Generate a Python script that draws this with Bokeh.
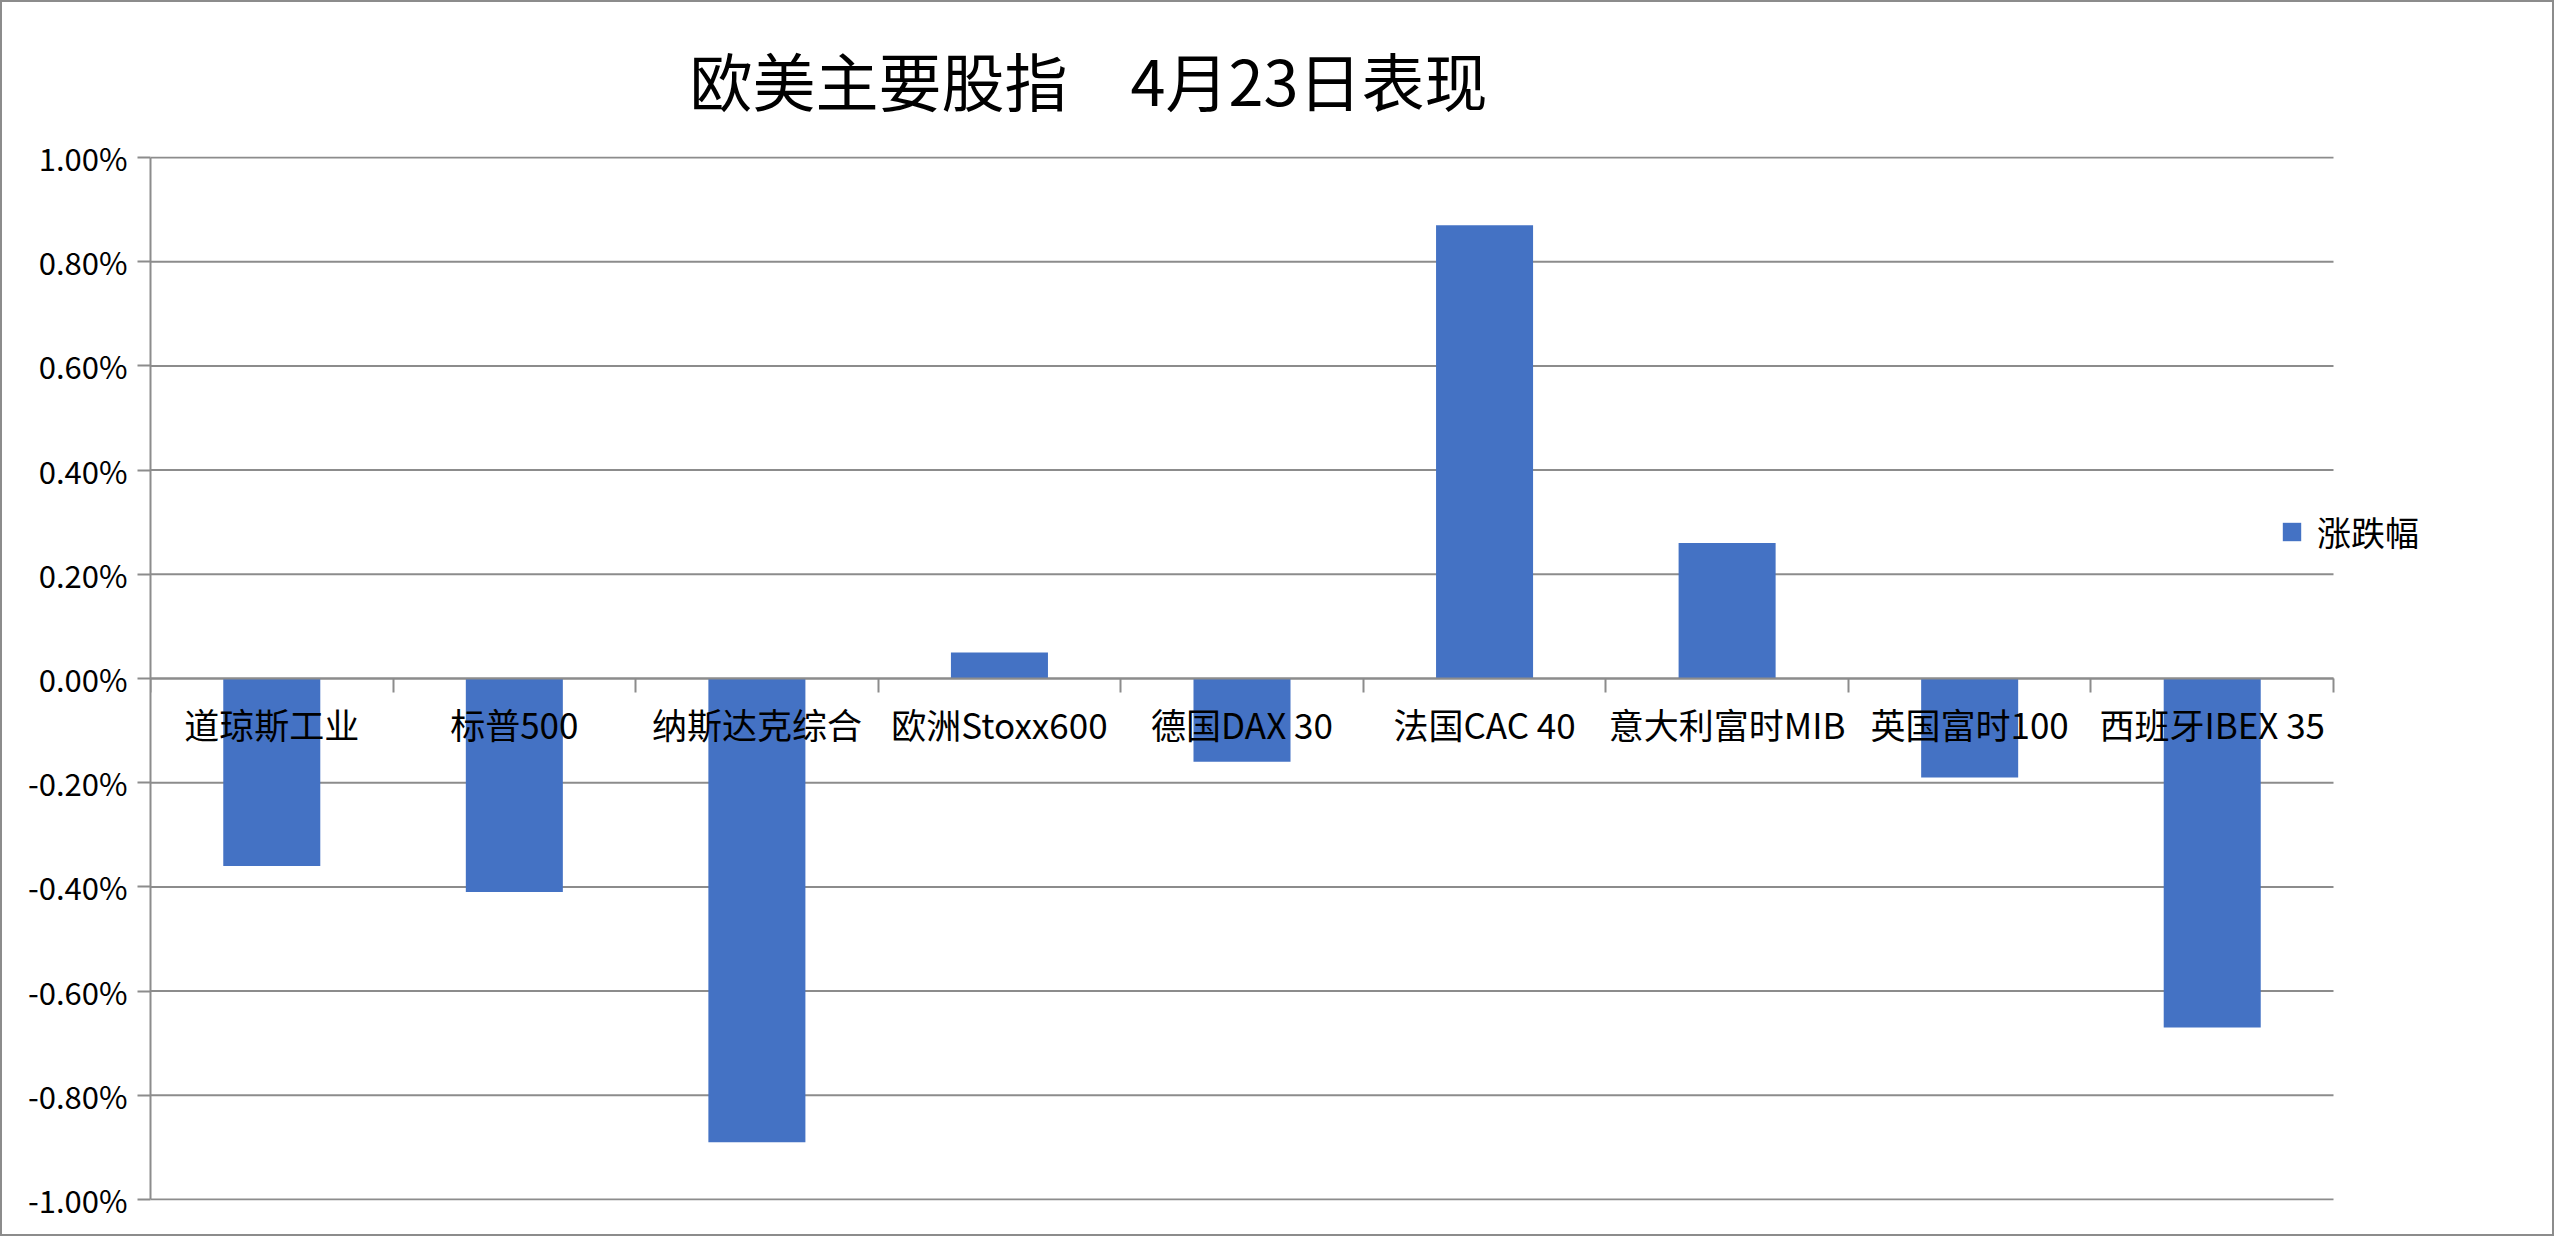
from bokeh.plotting import figure
from bokeh.models import (Range1d, LinearAxis, FixedTicker, PrintfTickFormatter,
                          Legend, LegendItem, ColumnDataSource)
from bokeh.embed import file_html
from bokeh.resources import INLINE

# ---- data ----
categories = ["道琼斯工业", "标普500", "纳斯达克综合", "欧洲Stoxx600", "德国DAX 30",
              "法国CAC 40", "意大利富时MIB", "英国富时100", "西班牙IBEX 35"]
changes = [-0.36, -0.41, -0.89, 0.05, -0.16, 0.87, 0.26, -0.19, -0.67]
y_ticks = [-1.0, -0.8, -0.6, -0.4, -0.2, 0.0, 0.2, 0.4, 0.6, 0.8, 1.0]
series_name = "涨跌幅"
title_text = "欧美主要股指　4月23日表现"

# ---- style / layout ----
FONT = "Noto Sans CJK SC"
GREY = "#8c8c8c"
BLUE = "#4472C4"
W, H = 2554, 1236
FRAME_L, FRAME_T, FRAME_B = 148, 153, 1198
CAT_R = 2331          # right end of the category area / gridlines
FRAME_R = 2480        # frame extends past the gridlines to host the legend

n = len(categories)
centers = [i + 0.5 for i in range(n)]
bounds = [float(i) for i in range(n + 1)]
x_end = n * (FRAME_R - FRAME_L) / (CAT_R - FRAME_L)
y_lo, y_hi = min(y_ticks), max(y_ticks)
pad = (y_hi - y_lo) * 0.001

src = ColumnDataSource(dict(x=centers, top=changes, cat=categories))
grid_src = ColumnDataSource(dict(y=y_ticks, x0=[0] * len(y_ticks), x1=[n] * len(y_ticks)))

p = figure(width=W, height=H,
           x_range=Range1d(0, x_end), y_range=Range1d(y_lo - pad, y_hi + pad),
           output_backend="svg", toolbar_location=None,
           title=title_text, x_axis_type=None,
           min_border_left=FRAME_L, min_border_right=W - FRAME_R,
           min_border_top=FRAME_T, min_border_bottom=H - FRAME_B)
p.styles = {"border": "2px solid #8c8c8c"}
p.outline_line_color = None
p.background_fill_color = "white"
p.border_fill_color = "white"

p.title.text_font = FONT
p.title.text_font_size = "63px"
p.title.text_font_style = "normal"
p.title.text_color = "black"
p.title.align = "left"
p.title.vertical_align = "top"
p.title.offset = 539
p.title.standoff = 61

# y axis
p.yaxis.ticker = FixedTicker(ticks=y_ticks)
p.yaxis.formatter = PrintfTickFormatter(format="%.2f%%")
p.yaxis.axis_line_color = GREY
p.yaxis.axis_line_width = 2
p.yaxis.major_tick_line_color = GREY
p.yaxis.major_tick_line_width = 2
p.yaxis.major_tick_out = 13
p.yaxis.major_tick_in = 0
p.yaxis.minor_tick_line_color = None
p.yaxis.major_label_text_font = FONT
p.yaxis.major_label_text_font_size = "31px"
p.yaxis.major_label_text_color = "black"
p.yaxis.major_label_standoff = 10
p.yaxis.bounds = (y_lo, y_hi)

p.ygrid.visible = False
p.xgrid.visible = False

# horizontal gridlines across the category area only
p.segment(x0="x0", x1="x1", y0="y", y1="y", source=grid_src,
          line_color=GREY, line_width=2)

r = p.vbar(x="x", top="top", bottom=0, width=0.4, source=src,
           fill_color=BLUE, line_color=None)

# category axis at zero: tick marks between categories
tick_axis = LinearAxis(ticker=FixedTicker(ticks=bounds), fixed_location=0,
                       bounds=(0, n),
                       axis_line_color=GREY, axis_line_width=2,
                       major_tick_line_color=GREY, major_tick_line_width=2,
                       major_tick_out=14, major_tick_in=0,
                       minor_tick_line_color=None,
                       major_label_text_color=None)
p.add_layout(tick_axis, "below")

label_axis = LinearAxis(ticker=FixedTicker(ticks=centers), fixed_location=0,
                        axis_line_color=None, major_tick_line_color=None,
                        major_tick_out=0, major_tick_in=0,
                        minor_tick_line_color=None,
                        major_label_overrides={c: name for c, name in zip(centers, categories)},
                        major_label_text_font=FONT,
                        major_label_text_font_size="35px",
                        major_label_text_color="black",
                        major_label_standoff=19)
p.add_layout(label_axis, "below")

legend = Legend(items=[LegendItem(label=series_name, renderers=[r])],
                location=(2130, 644), glyph_width=23, glyph_height=23,
                label_text_font=FONT, label_text_font_size="34px",
                label_text_color="black", label_standoff=14,
                padding=0, margin=0, spacing=0,
                border_line_color=None, background_fill_alpha=0)
p.add_layout(legend)

open("out.html", "w").write(file_html(p, INLINE))
